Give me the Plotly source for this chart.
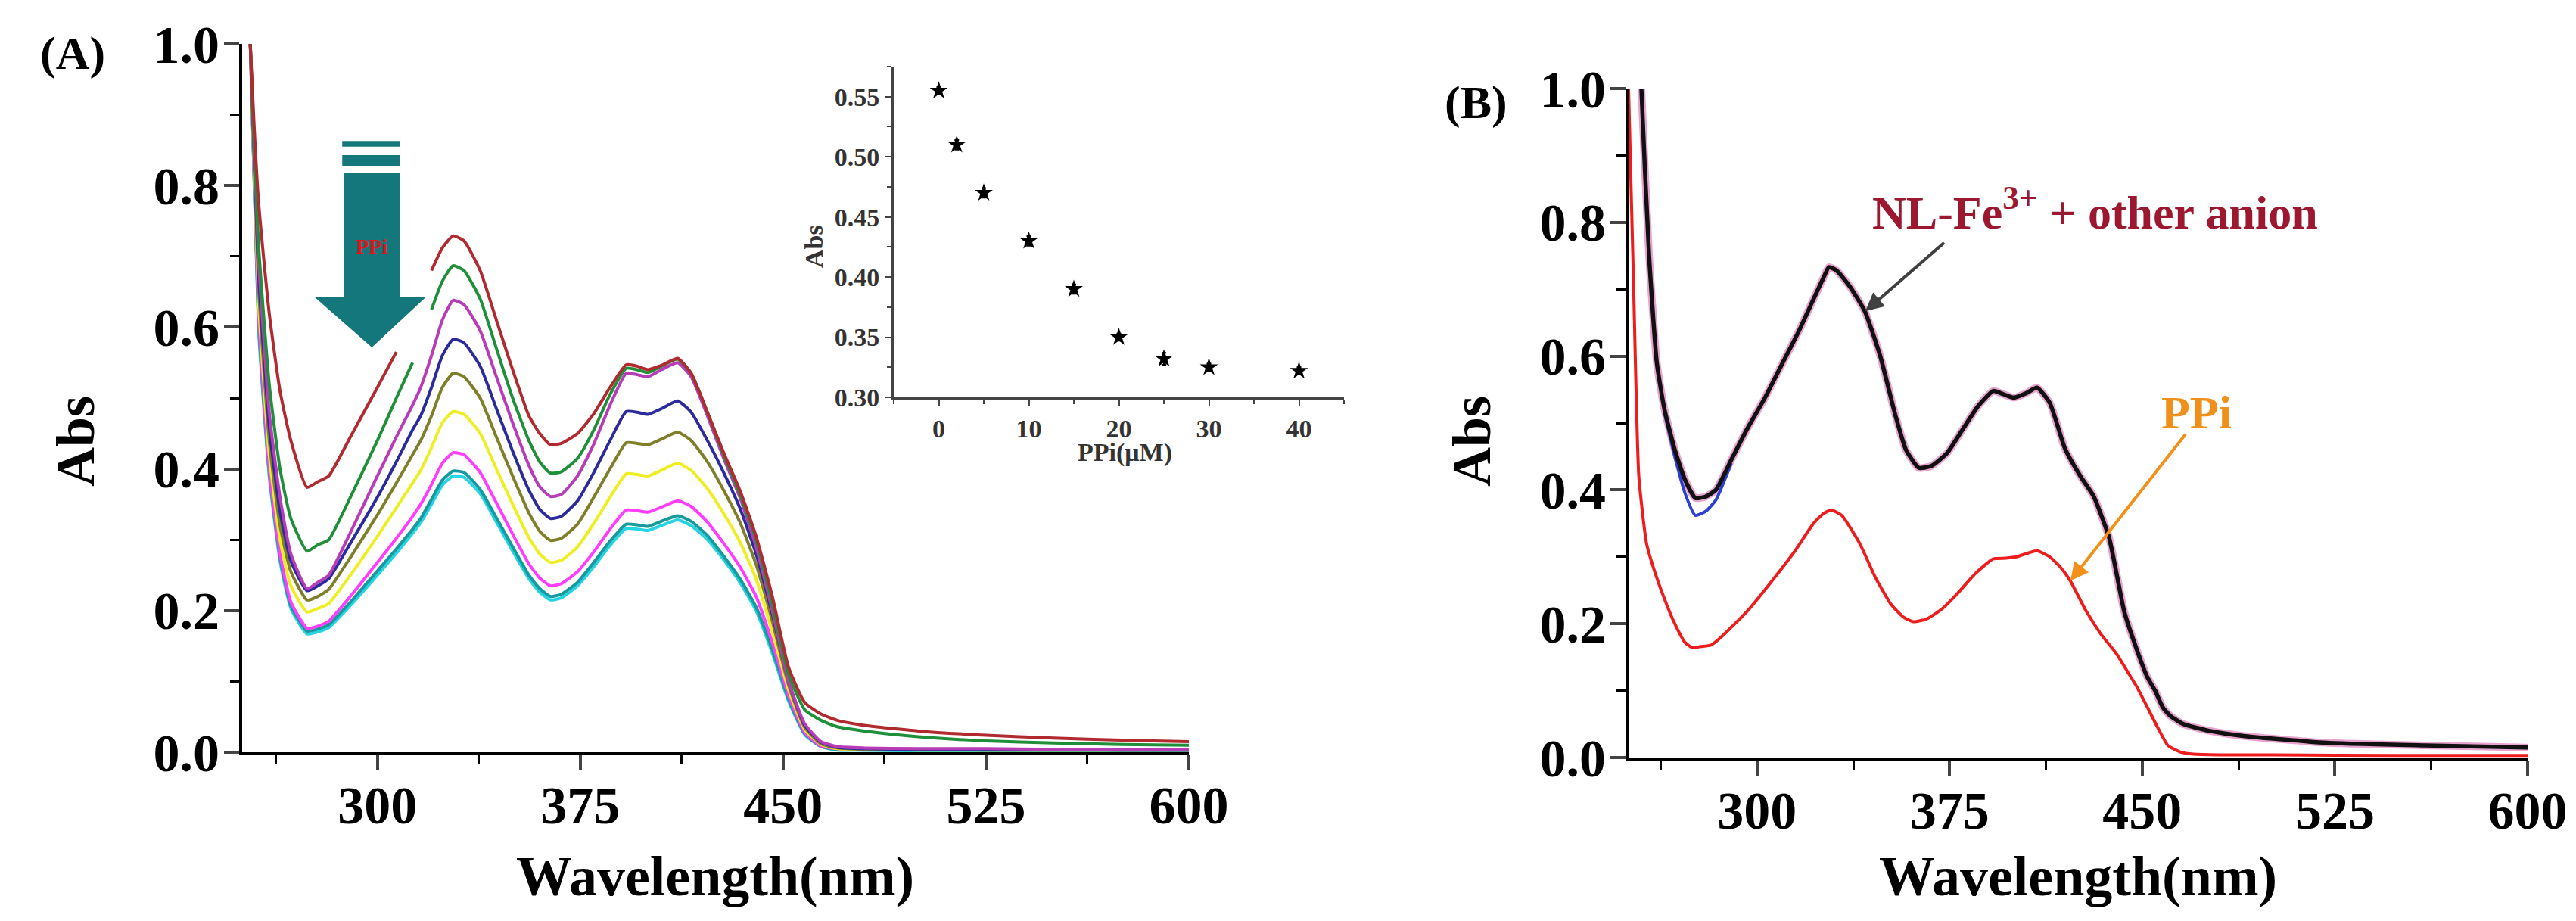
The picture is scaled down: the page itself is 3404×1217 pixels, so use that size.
import plotly.graph_objects as go

W, H = 3404, 1217
FONT = "Liberation Serif"

# ---------------- Panel A data ----------------
A_wl = [250, 253, 256, 260, 264, 268, 274, 278, 282, 290,
        300, 307, 313, 316, 320, 324, 328, 332, 338, 344,
        350, 356, 360, 364, 368, 374, 380, 386, 392, 396,
        400, 405, 411, 416, 422, 428, 434, 440, 446, 452,
        458, 464, 470, 480, 500, 525, 550, 575, 600]

A_red = [1.3, 1.0, 0.78, 0.62, 0.51, 0.44, 0.374, 0.382, 0.39, 0.445,
         0.515, 0.565, None, None, 0.68, 0.712, 0.729, 0.722, 0.68, 0.61,
         0.54, 0.475, 0.45, 0.434, 0.436, 0.45, 0.478, 0.515, 0.547, 0.545,
         0.54, 0.546, 0.556, 0.535, 0.48, 0.423, 0.37, 0.305, 0.22, 0.12,
         0.07, 0.054, 0.045, 0.038, 0.03, 0.024, 0.02, 0.017, 0.015]
A_green = [1.25, 1.0, 0.72, 0.52, 0.4, 0.33, 0.284, 0.293, 0.3, 0.36,
           0.44, 0.5, 0.55, None, 0.625, 0.665, 0.687, 0.68, 0.64, 0.57,
           0.5, 0.44, 0.41, 0.394, 0.396, 0.415, 0.455, 0.505, 0.542, 0.54,
           0.536, 0.545, 0.555, 0.535, 0.48, 0.42, 0.365, 0.3, 0.21, 0.11,
           0.06, 0.045, 0.036, 0.03, 0.022, 0.016, 0.013, 0.011, 0.01]
A_purple = [1.2, 1.0, 0.7, 0.48, 0.36, 0.28, 0.231, 0.24, 0.25, 0.31,
            0.39, 0.445, 0.49, 0.515, 0.56, 0.61, 0.638, 0.632, 0.595, 0.53,
            0.465, 0.405, 0.375, 0.361, 0.364, 0.39, 0.435, 0.49, 0.535, 0.533,
            0.53, 0.54, 0.55, 0.53, 0.475, 0.415, 0.36, 0.29, 0.2, 0.1,
            0.04, 0.015, 0.008, 0.006, 0.005, 0.005, 0.004, 0.004, 0.004]
A_blue = [1.2, 1.0, 0.68, 0.46, 0.34, 0.27, 0.228, 0.235, 0.245, 0.295,
          0.36, 0.41, 0.455, 0.475, 0.515, 0.56, 0.583, 0.578, 0.545, 0.485,
          0.425, 0.37, 0.343, 0.33, 0.333, 0.355, 0.395, 0.44, 0.481, 0.48,
          0.477, 0.485, 0.496, 0.48, 0.44, 0.395, 0.345, 0.28, 0.195, 0.1,
          0.038, 0.014, 0.007, 0.005, 0.004, 0.004, 0.004, 0.003, 0.003]
A_olive = [1.2, 1.0, 0.66, 0.44, 0.32, 0.255, 0.215, 0.22, 0.23, 0.275,
           0.335, 0.38, 0.42, 0.44, 0.475, 0.515, 0.535, 0.53, 0.5, 0.445,
           0.39, 0.338, 0.312, 0.299, 0.302, 0.322, 0.36, 0.4, 0.437, 0.436,
           0.434, 0.442, 0.452, 0.44, 0.41, 0.37, 0.325, 0.265, 0.185, 0.095,
           0.035, 0.012, 0.006, 0.004, 0.004, 0.003, 0.003, 0.003, 0.003]
A_yellow = [1.2, 1.0, 0.64, 0.42, 0.3, 0.235, 0.198, 0.203, 0.21, 0.25,
            0.305, 0.345, 0.38, 0.398, 0.43, 0.465, 0.481, 0.477, 0.45, 0.4,
            0.35, 0.303, 0.28, 0.268, 0.271, 0.29, 0.323, 0.36, 0.393, 0.392,
            0.39, 0.398, 0.408, 0.398, 0.372, 0.337, 0.297, 0.245, 0.17, 0.088,
            0.032, 0.011, 0.005, 0.004, 0.003, 0.003, 0.003, 0.003, 0.003]
A_magenta = [1.2, 1.0, 0.62, 0.4, 0.28, 0.212, 0.175, 0.178, 0.185, 0.22,
             0.268, 0.302, 0.333, 0.35, 0.378, 0.408, 0.423, 0.42, 0.395, 0.352,
             0.308, 0.266, 0.246, 0.235, 0.238, 0.255, 0.283, 0.315, 0.342, 0.341,
             0.339, 0.346, 0.355, 0.347, 0.325, 0.295, 0.262, 0.22, 0.155, 0.08,
             0.028, 0.009, 0.005, 0.004, 0.004, 0.004, 0.004, 0.004, 0.004]
A_teal = [1.2, 1.0, 0.61, 0.395, 0.275, 0.207, 0.171, 0.174, 0.18, 0.212,
          0.256, 0.287, 0.315, 0.33, 0.357, 0.384, 0.397, 0.395, 0.371, 0.331,
          0.29, 0.25, 0.231, 0.22, 0.223, 0.24, 0.268, 0.298, 0.322, 0.321,
          0.319, 0.326, 0.334, 0.326, 0.306, 0.277, 0.245, 0.205, 0.145, 0.075,
          0.026, 0.008, 0.004, 0.003, 0.003, 0.003, 0.003, 0.003, 0.003]
A_cyan = [1.2, 1.0, 0.6, 0.39, 0.27, 0.203, 0.167, 0.17, 0.176, 0.207,
          0.25, 0.281, 0.309, 0.324, 0.35, 0.377, 0.39, 0.388, 0.365, 0.325,
          0.284, 0.245, 0.226, 0.215, 0.218, 0.235, 0.262, 0.292, 0.316, 0.315,
          0.313, 0.32, 0.328, 0.32, 0.3, 0.272, 0.24, 0.2, 0.14, 0.072,
          0.025, 0.008, 0.003, 0.003, 0.002, 0.002, 0.002, 0.002, 0.002]

A_series = [  # drawn bottom layer first
    ("cyan", A_cyan, "#25d3e3"),
    ("teal", A_teal, "#169a9e"),
    ("magenta", A_magenta, "#ff3cff"),
    ("yellow", A_yellow, "#eeee22"),
    ("olive", A_olive, "#7f7f2a"),
    ("blue", A_blue, "#2b2b9b"),
    ("purple", A_purple, "#b83cb8"),
    ("green", A_green, "#1f8f3a"),
    ("red", A_red, "#b02a30"),
]

# ---------------- Inset data ----------------
ppi_conc = [0, 2, 5, 10, 15, 20, 25, 30, 40]
ppi_abs = [0.555, 0.51, 0.47, 0.43, 0.39, 0.35, 0.332, 0.325, 0.322]
ppi_err = [0.003, 0.004, 0.004, 0.004, 0.004, 0.003, 0.005, 0.003, 0.003]

# ---------------- Panel B data ----------------
B_wl_other = [252, 255, 258, 261, 264, 268, 272, 276, 280, 284,
              290, 296, 303, 310, 316, 322, 326, 328, 331, 336,
              342, 348, 354, 358, 363, 368, 374, 380, 386, 392,
              396, 400, 405, 409, 414, 420, 426, 431, 437, 440,
              443, 448, 452, 455, 458, 461, 466, 476, 490, 522,
              560, 600]
B_other = [1.4, 1.0, 0.75, 0.59, 0.52, 0.46, 0.415, 0.388, 0.39, 0.4,
           0.445, 0.49, 0.537, 0.59, 0.635, 0.685, 0.718, 0.733, 0.728, 0.705,
           0.667, 0.6, 0.51, 0.46, 0.433, 0.436, 0.455, 0.49, 0.525, 0.548,
           0.543, 0.538, 0.545, 0.553, 0.53, 0.461, 0.42, 0.391, 0.33, 0.275,
           0.218, 0.16, 0.12, 0.1, 0.075, 0.062, 0.05, 0.04, 0.032, 0.022,
           0.018, 0.015]
B_wl_blue = [264, 268, 272, 276, 280, 284, 290]
B_blue = [0.515, 0.45, 0.395, 0.362, 0.368, 0.385, 0.44]

B_wl_ppi = [250, 252, 254, 257, 260, 264, 268, 272, 275, 278,
            282, 286, 296, 305, 315, 322, 326, 329, 333, 340,
            346, 352, 357, 361, 366, 372, 378, 385, 392, 397,
            401, 405, 409, 414, 418, 422, 428, 434, 440, 444,
            448, 452, 456, 460, 465, 470, 480, 500, 550, 600]
B_ppi = [1.0, 0.7, 0.42, 0.32, 0.28, 0.237, 0.2, 0.172, 0.164, 0.166,
         0.168, 0.18, 0.218, 0.26, 0.31, 0.35, 0.365, 0.37, 0.362, 0.32,
         0.27, 0.23, 0.21, 0.203, 0.207, 0.222, 0.245, 0.275, 0.297, 0.298,
         0.3, 0.305, 0.309, 0.3, 0.285, 0.264, 0.22, 0.184, 0.155, 0.13,
         0.105, 0.075, 0.045, 0.018, 0.008, 0.005, 0.004, 0.004, 0.003, 0.003]

x_ticks = [300, 375, 450, 525, 600]
y_ticks = [0.0, 0.2, 0.4, 0.6, 0.8, 1.0]
inset_xticks = [0, 10, 20, 30, 40]
inset_yticks = [0.30, 0.35, 0.40, 0.45, 0.50, 0.55]


def px(x):
    return x / W


def py(y):
    return 1 - y / H


fig = go.Figure()

for name, vals, col in A_series:
    fig.add_trace(go.Scatter(x=A_wl, y=vals, mode="lines", name=name,
                             line=dict(color=col, width=4, shape="spline", smoothing=0.5),
                             xaxis="x", yaxis="y", showlegend=False, hoverinfo="skip"))

fig.add_trace(go.Scatter(x=ppi_conc, y=ppi_abs, mode="markers",
                         marker=dict(symbol="star", size=18, color="black"),
                         error_y=dict(type="data", array=ppi_err, color="black", thickness=2, width=3),
                         xaxis="x3", yaxis="y3", showlegend=False))

fig.add_trace(go.Scatter(x=B_wl_other, y=B_other, mode="lines",
                         line=dict(color="#e9a3cf", width=10, shape="spline", smoothing=0.5),
                         xaxis="x2", yaxis="y2", showlegend=False))
fig.add_trace(go.Scatter(x=B_wl_blue, y=B_blue, mode="lines",
                         line=dict(color="#2c3fd0", width=4, shape="spline", smoothing=0.5),
                         xaxis="x2", yaxis="y2", showlegend=False))
fig.add_trace(go.Scatter(x=B_wl_other, y=B_other, mode="lines",
                         line=dict(color="#111111", width=5.5, shape="spline", smoothing=0.5),
                         xaxis="x2", yaxis="y2", showlegend=False))
fig.add_trace(go.Scatter(x=B_wl_ppi, y=B_ppi, mode="lines",
                         line=dict(color="#ee1c1c", width=4, shape="spline", smoothing=0.5),
                         xaxis="x2", yaxis="y2", showlegend=False))

tickfont = dict(family=FONT, size=70, color="black", weight="bold")
common_x = dict(range=[250, 600], tickvals=x_ticks, ticks="outside", ticklen=20, tickwidth=4,
                showline=True, linewidth=4, linecolor="black", showgrid=False, zeroline=False,
                tickfont=tickfont, automargin=False, ticklabelstandoff=-14,
                minor=dict(dtick=37.5, tick0=262.5, ticks="outside", ticklen=12, tickwidth=3,
                           tickcolor="black", showgrid=False))
common_y = dict(range=[0, 1.0], tickvals=y_ticks, tickformat=".1f", ticks="outside", ticklen=20,
                tickwidth=4, showline=True, linewidth=4, linecolor="black", showgrid=False,
                zeroline=False, tickfont=tickfont, automargin=False, ticklabelstandoff=-8,
                minor=dict(dtick=0.1, ticks="outside", ticklen=12, tickwidth=3,
                           tickcolor="black", showgrid=False))

inset_font = dict(family=FONT, size=34, color="#333333", weight="bold")

fig.update_layout(
    width=W, height=H, autosize=False,
    margin=dict(l=0, r=0, t=0, b=0),
    paper_bgcolor="white", plot_bgcolor="rgba(0,0,0,0)",
    xaxis=dict(domain=[px(312), px(1563)], anchor="y", **common_x),
    yaxis=dict(domain=[py(986), py(50)], anchor="x", **common_y),
    xaxis2=dict(domain=[px(2144), px(3332)], anchor="y2", **common_x),
    yaxis2=dict(domain=[py(993), py(109)], anchor="x2", **common_y),
    xaxis3=dict(domain=[px(1173), px(1768)], anchor="y3", range=[-5, 45],
                tickvals=inset_xticks, ticks="outside", ticklen=9, tickwidth=2,
                showline=True, linewidth=3, linecolor="#444444", tickcolor="#444444",
                showgrid=False, zeroline=False, tickfont=inset_font, automargin=False,
                minor=dict(dtick=5, tick0=0, ticks="outside", ticklen=6, tickwidth=2,
                           tickcolor="#444444", showgrid=False)),
    yaxis3=dict(domain=[py(517), py(80)], anchor="x3", range=[0.30, 0.575],
                tickvals=inset_yticks, tickformat=".2f", ticks="outside", ticklen=9, tickwidth=2,
                showline=True, linewidth=3, linecolor="#444444", tickcolor="#444444",
                showgrid=False, zeroline=False, tickfont=inset_font, automargin=False,
                minor=dict(dtick=0.025, tick0=0.3, ticks="outside", ticklen=6, tickwidth=2,
                           tickcolor="#444444", showgrid=False)),
)

TEAL = "#13777b"
fig.add_shape(type="rect", xref="x", yref="y", x0=287.0, x1=308.3, y0=0.855, y1=0.863,
              fillcolor=TEAL, line=dict(width=0), layer="above")
fig.add_shape(type="rect", xref="x", yref="y", x0=287.0, x1=308.3, y0=0.828, y1=0.843,
              fillcolor=TEAL, line=dict(width=0), layer="above")
fig.add_shape(type="path", xref="x", yref="y",
              path="M 287.6,0.818 L 308.3,0.818 L 308.3,0.642 L 317.8,0.642 "
                   "L 297.95,0.5716 L 276.9,0.642 L 287.6,0.642 Z",
              fillcolor=TEAL, line=dict(width=0), layer="above")


def txt(xp, yp, text, font, angle=0):
    return dict(x=px(xp), y=py(yp), xref="paper", yref="paper", text=text, showarrow=False,
                xanchor="center", yanchor="middle", textangle=angle, font=font)


ann = []
ann.append(dict(x=297.95, y=0.714, xref="x", yref="y", text="PPi", showarrow=False,
                xanchor="center", yanchor="middle",
                font=dict(family=FONT, size=28, color="#e4141c", weight="bold")))
ann.append(txt(88, 62, "(A)", dict(family=FONT, size=62, color="black", weight="bold")))
ann.append(txt(1942, 128, "(B)", dict(family=FONT, size=62, color="black", weight="bold")))
for cx in (937, 2738):
    ann.append(txt(cx, 1150, "Wavelength(nm)", dict(family=FONT, size=74, color="black", weight="bold")))
for cx in (92, 1937):
    ann.append(txt(cx, 575, "Abs", dict(family=FONT, size=72, color="black", weight="bold"), -90))
ann.append(txt(1068, 318, "Abs", inset_font, -90))
ann.append(txt(1478, 590, "PPi(μM)", inset_font))
ann.append(txt(2760, 268, "NL-Fe<sup>3+</sup> + other anion",
               dict(family=FONT, size=62, color="#9b1830", weight="bold")))
ann.append(txt(2894, 537, "PPi", dict(family=FONT, size=62, color="#f0901a", weight="bold")))
ann.append(dict(x=342.2, y=0.667, xref="x2", yref="y2", ax=373.3, ay=0.771, axref="x2", ayref="y2",
                text="", showarrow=True, arrowhead=2, arrowsize=1.2, arrowwidth=4,
                arrowcolor="#404040"))
ann.append(dict(x=422, y=0.264, xref="x2", yref="y2", ax=467.2, ay=0.485, axref="x2", ayref="y2",
                text="", showarrow=True, arrowhead=2, arrowsize=1.2, arrowwidth=4,
                arrowcolor="#f39019"))
fig.update_layout(annotations=ann)

fig.write_html("out.html")
